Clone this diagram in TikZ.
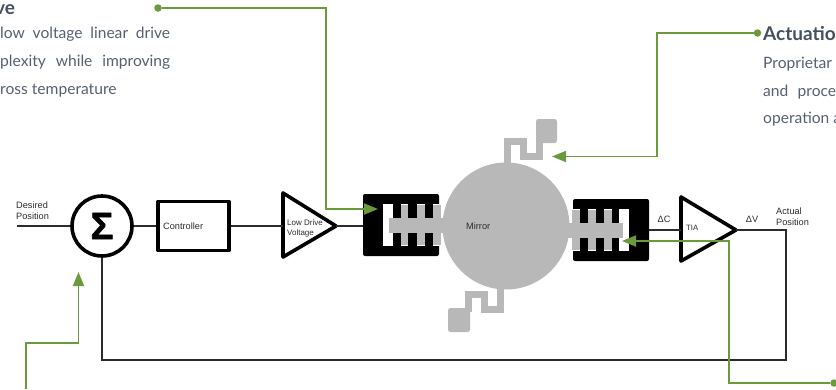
\documentclass[tikz,border=0pt]{standalone}
\usepackage{fontspec}
\setmainfont{Lato}
\newfontfamily\arial{Liberation Sans}
\newfontfamily\sigmafont[BoldFeatures={FakeBold=1.5}]{Liberation Sans}
\usetikzlibrary{arrows.meta}
\definecolor{leaf}{HTML}{6A9A3C}
\definecolor{ink}{HTML}{2B2B2B}
\definecolor{steel}{HTML}{B8B8B8}
\definecolor{slate}{HTML}{56606F}
\definecolor{slatehead}{HTML}{44505F}
\tikzset{
  x=1pt,y=-1pt,
  wire/.style={draw=ink,line width=2pt},
  block/.style={draw=black,line width=3.6pt,line join=round},
  callout/.style={draw=leaf,line width=1.8pt,line join=miter},
  calloutarrow/.style={callout,-{Triangle[length=14pt,width=11pt,fill=leaf]}},
  dot/.style={circle,fill=leaf,inner sep=0pt,minimum size=7.5pt},
  lbl/.style={font=\arial\fontsize{9.2}{11}\selectfont,text=ink,inner sep=0pt,align=left},
  body/.style={font=\fontsize{15.6}{17}\selectfont,text=slate,inner sep=0pt},
  head/.style={font=\fontsize{19}{21}\selectfont\bfseries,text=slatehead,inner sep=0pt},
  metal/.style={fill=steel,draw=none},
  spring/.style={draw=steel,line width=7pt,line join=miter}
}
\begin{document}
\begin{tikzpicture}
\useasboundingbox (0,0) rectangle (836,389);
\clip (0,0) rectangle (836,389);
% text fragments
\node[head,anchor=base west] (h1) at (-5,14) {ve};
\node[body,anchor=base west] (t1) at (0,38.5) {\hbox to 170pt{low\hfill voltage\hfill linear\hfill drive}};
\node[body,anchor=base west] (t2) at (0,66) {\hbox to 170pt{plexity\hfill while\hfill improving}};
\node[body,anchor=base west] (t3) at (0,94) {ross temperature};
\node[head,anchor=base west] (h2) at (763,40) {Actuatio};
\node[body,anchor=base west] (t4) at (763,68) {Proprietar};
\node[body,anchor=base west] (t5) at (763,96) {\hbox to 73pt{and\hfill proce}};
\node[body,anchor=base west] (t6) at (763,123.5) {operation a};
% springs and pads
\draw[spring] (507,165) -- (507,141.5) -- (523.5,141.5) -- (523.5,156.5) -- (539,156.5) -- (539,138);
\fill[metal,rounded corners=2.5pt] (536,119) rectangle (557,143);
\draw[spring] (500,287) -- (500,309.5) -- (484,309.5) -- (484,294.5) -- (468,294.5) -- (468,312);
\fill[metal,rounded corners=2.5pt] (448,308) rectangle (470,332);
% left comb
\fill[black,rounded corners=2pt] (363,194) rectangle (439,256);
\fill[white] (383,204) rectangle (439,246);
\foreach \a/\b in {393/401,408/417,425/433}{
  \fill[black] (\a,204) rectangle (\b,218);
  \fill[black] (\a,232) rectangle (\b,246);
}
\foreach \a/\b in {401/408,417/425,433/441}{
  \fill[metal] (\a,205) rectangle (\b,245);
}
\fill[metal] (389,218) rectangle (446,232.5);
% right comb
\fill[black,rounded corners=2pt] (573,199) rectangle (649,261);
\fill[white] (573,209) rectangle (629,251);
\foreach \a/\b in {580/588,596/604,612/619}{
  \fill[black] (\a,209) rectangle (\b,223);
  \fill[black] (\a,237) rectangle (\b,251);
}
\foreach \a/\b in {572/580,588/596,604/612}{
  \fill[metal] (\a,210) rectangle (\b,250);
}
\fill[metal] (568,223) rectangle (623,237.5);
% mirror
\node[circle,fill=steel,minimum size=127pt,inner sep=0pt] (mirror) at (506,226) {};
\node[lbl,anchor=west] (mirrortext) at (466,226) {Mirror};
% blocks
\node[circle,block,fill=white,minimum size=60pt,inner sep=0pt,font=\sigmafont\bfseries\fontsize{38}{38}\selectfont] (sum) at (102,226) {\char"03A3};
\node[rectangle,block,minimum width=71pt,minimum height=49pt,inner sep=0pt] (ctrl) at (193.5,226) {};
\node[lbl,anchor=west] (ctrltext) at (163,226.5) {Controller};
\coordinate (lowa) at (283,193);
\coordinate (lowb) at (283,257);
\coordinate (lowtip) at (336,226);
\coordinate (lowin) at (283,226);
\draw[block] (lowa) -- (lowtip) -- (lowb) -- cycle;
\node[lbl,font=\arial\fontsize{8}{10.5}\selectfont,anchor=west] (lowtext) at (287,228.5) {Low Drive\\Voltage};
\coordinate (tiaa) at (681,197);
\coordinate (tiab) at (681,261);
\coordinate (tiatip) at (736,230);
\coordinate (tiain) at (681,230);
\draw[block] (tiaa) -- (tiatip) -- (tiab) -- cycle;
\node[lbl,font=\arial\fontsize{7.7}{9}\selectfont,anchor=west] (tiatext) at (686,228) {TIA};
% wires
\coordinate (combL) at (363,226);
\coordinate (combR) at (649,230);
\coordinate (desired) at (17,226);
\coordinate (corner1) at (786,230);
\coordinate (corner2) at (786,360);
\coordinate (corner3) at (102,360);
\draw[wire] (desired) -- (sum.west);
\draw[wire] (sum.east) -- (ctrl.west);
\draw[wire] (ctrl.east) -- (lowin);
\draw[wire] (lowtip) -- (combL);
\draw[wire] (combR) -- (tiain);
\draw[wire,line join=miter] (tiatip) -- (corner1) -- (corner2) -- (corner3) -- (sum.south);
% labels
\node[lbl,anchor=west] (desiredtext) at (16,210.5) {Desired\\Position};
\node[lbl,anchor=center] (dc) at (664,219) {ΔC};
\node[lbl,anchor=center] (dv) at (752,219) {ΔV};
\node[lbl,anchor=west] (actualtext) at (776,216.5) {Actual\\Position};
% callouts
\node[dot] (d1) at (158,8) {};
\coordinate (a1) at (326,8);
\coordinate (a2) at (326,209);
\coordinate (tip1) at (378,209);
\draw[calloutarrow] (d1) -- (a1) -- (a2) -- (tip1);
\node[dot] (d2) at (757.5,33) {};
\coordinate (b1) at (657,33);
\coordinate (b2) at (657,156.5);
\coordinate (tip2) at (552,156.5);
\draw[calloutarrow] (d2) -- (b1) -- (b2) -- (tip2);
\node[dot] (d3) at (834,383) {};
\coordinate (c1) at (729,383);
\coordinate (c2) at (729,241);
\coordinate (tip3) at (622,241);
\draw[calloutarrow] (d3) -- (c1) -- (c2) -- (tip3);
\coordinate (e0) at (26,389);
\coordinate (e1) at (26,343);
\coordinate (e2) at (78.5,343);
\coordinate (tip4) at (78.5,272);
\draw[calloutarrow] (e0) -- (e1) -- (e2) -- (tip4);
\end{tikzpicture}
\end{document}
